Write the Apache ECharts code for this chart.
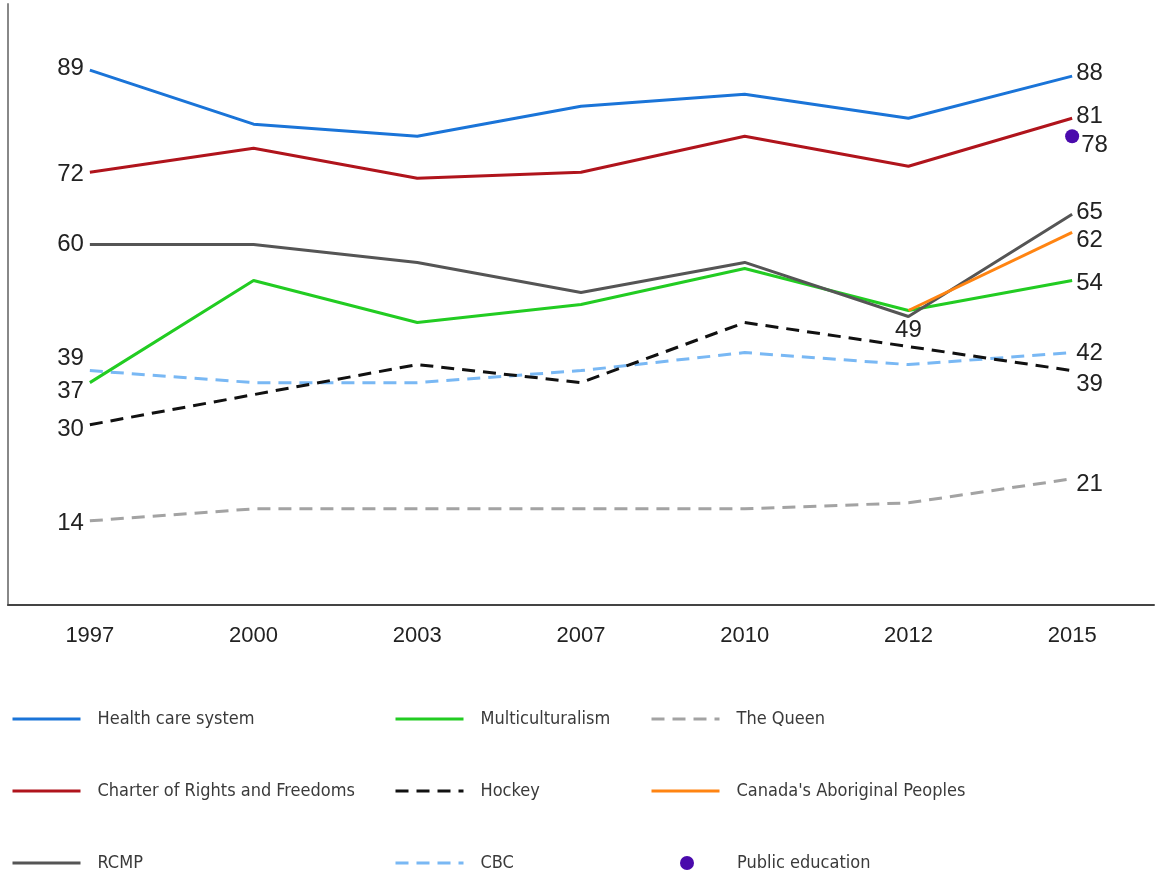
<!DOCTYPE html>
<html>
<head>
<meta charset="utf-8">
<script src="https://cdn.jsdelivr.net/npm/echarts@6/dist/echarts.min.js"></script>
<style>
html,body{margin:0;padding:0;background:#fff;}
#chart{width:1157px;height:879px;}
</style>
</head>
<body>
<div id="chart"></div>
<script>
const years = ['1997','2000','2003','2007','2010','2012','2015'];
const healthCare = [89, 80, 78, 83, 85, 81, 88];
const charter = [72, 76, 71, 72, 78, 73, 81];
const rcmp = [60, 60, 57, 52, 57, 48, 65];
const multiculturalism = [37, 54, 47, 50, 56, 49, 54];
const hockey = [30, 35, 40, 37, 47, 43, 39];
const cbc = [39, 37, 37, 39, 42, 40, 42];
const queen = [14, 16, 16, 16, 16, 17, 21];
const aboriginal = [null, null, null, null, null, 49, 62];
const publicEducation = [null, null, null, null, null, null, 78];
const labelTexts = { rcmp2012: '49' };

const NUMFONT = "'Liberation Sans','Arial',sans-serif";
const LEGFONT = "'DejaVu Sans Condensed','Liberation Sans',sans-serif";
const labelBase = {show:true, fontFamily:NUMFONT, fontSize:24, color:'#222'};

function build(values, opts) {
  return values.map((v, i) => {
    const o = opts[i];
    if (v == null) return null;
    if (!o) return v;
    return {value: v, label: Object.assign({}, labelBase, o)};
  });
}
const L = (off) => ({position:'left', distance:6, offset: off || [0,0]});
const R = (off) => ({position:'right', distance:4, offset: off || [0,0]});

function lineSeries(name, values, color, dashed, opts, z) {
  return {
    name, type:'line', data: build(values, opts),
    symbol:'circle', symbolSize:0, showSymbol:true,
    lineStyle:{color, width:3, type: dashed ? [13,8] : 'solid'},
    itemStyle:{color},
    label:{show:false}, z: z || 2, connectNulls:false
  };
}

const series = [
  lineSeries('The Queen', queen, '#a3a3a3', true, {0:L([0,3]), 6:R([0,6])}),
  lineSeries('CBC', cbc, '#79b8f4', true, {0:L([0,-12]), 6:R([0,1])}),
  lineSeries('Hockey', hockey, '#111111', true, {0:L([0,5]), 6:R([0,14])}),
  lineSeries('Multiculturalism', multiculturalism, '#22cc22', false, {0:L([0,9]), 6:R([0,3])}),
  lineSeries('RCMP', rcmp, '#555555', false, {0:L([0,0]), 5:{position:'bottom', distance:2, formatter: labelTexts.rcmp2012}, 6:R([0,-2])}),
  lineSeries("Canada's Aboriginal Peoples", aboriginal, '#ff8412', false, {6:R([0,8])}, 3),
  lineSeries('Charter of Rights and Freedoms', charter, '#b0141c', false, {0:L([0,2]), 6:R([0,-2])}),
  lineSeries('Health care system', healthCare, '#1a74d8', false, {0:L([0,-2]), 6:R([0,-3])}),
  {
    name:'Public education', type:'scatter', symbol:'circle', symbolSize:14,
    itemStyle:{color:'#4a0aac', opacity:1},
    data: build(publicEducation, {6:{position:'right', distance:2, offset:[0,9], color:'#222'}}), z:4
  }
];

const legendCols = [
  {left:11, items:['Health care system','Charter of Rights and Freedoms','RCMP']},
  {left:394, items:['Multiculturalism','Hockey','CBC']},
  {left:650, items:['The Queen',"Canada's Aboriginal Peoples",'Public education']}
];
const rowY = [718, 790, 862];
const legends = [];
legendCols.forEach(col => {
  col.items.forEach((name, r) => {
    const isDot = name === 'Public education';
    legends.push({
      data: [isDot ? {name, icon:'circle', itemStyle:{color:'#4a0aac', opacity:1}} : {name, itemStyle:{opacity:0}}],
      left: isDot ? 680 : col.left,
      top: rowY[r] - 8,
      itemWidth: isDot ? 14 : 68,
      itemHeight: 14,
      itemGap: 0,
      padding: 0,
      selectedMode:false,
      lineStyle:{width:3},
      textStyle:{fontFamily:LEGFONT, fontSize:18, color:'#3a3a3a', padding:[0,0,0, isDot ? 38 : 12]}
    });
  });
});

const chart = echarts.init(document.getElementById('chart'), null, {renderer:'canvas'});
chart.setOption({
  animation:false,
  backgroundColor:'#fff',
  grid:{left:8, right:3, top:4, bottom:274, containLabel:false},
  legend: legends,
  xAxis:{
    type:'category', data:years, boundaryGap:true,
    axisLine:{show:true, lineStyle:{color:'#444', width:2}},
    axisTick:{show:false},
    axisLabel:{fontFamily:NUMFONT, fontSize:22, color:'#222', margin:20}
  },
  yAxis:{
    type:'value', min:0, max:100,
    axisLine:{show:true, lineStyle:{color:'#888', width:2}},
    axisTick:{show:false}, axisLabel:{show:false}, splitLine:{show:false}
  },
  series
});
</script>
</body>
</html>
